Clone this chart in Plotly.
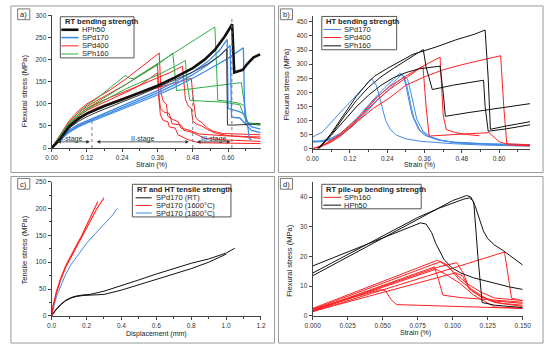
import plotly.graph_objects as go

FONT = "Arial, Liberation Sans, Helvetica, sans-serif"
W, H = 554, 348
RED = "#ff2020"
BLUE = "#3f8ae6"
GREEN = "#2fae45"
BLACK = "#111111"

# ---------------- Panel a : RT bending strength ----------------
a_title = "RT bending strength"
a_names = ["HPh50", "SPd170", "SPd400", "SPh160"]
a_xticks = [0.00, 0.12, 0.24, 0.36, 0.48, 0.60]
a_yticks = [0, 50, 100, 150, 200, 250, 300]

a_hph50_x = [0, 0.027, 0.06, 0.093, 0.12, 0.18, 0.24, 0.30, 0.36, 0.42, 0.48, 0.52, 0.555, 0.588, 0.614, 0.621, 0.637, 0.65, 0.665, 0.687, 0.709]
a_hph50_y = [0, 19, 49, 67, 78, 95, 110, 125, 141, 160, 181, 200, 222, 252, 280, 171, 175, 177, 190, 205, 212]
a_hph50b_x = [0, 0.02, 0.04, 0.06, 0.09, 0.12, 0.15, 0.20, 0.25, 0.30, 0.36, 0.42, 0.48, 0.53, 0.57, 0.595, 0.598, 0.62, 0.66, 0.71]
a_hph50b_y = [0, 15, 31, 45, 60, 71, 80, 94, 107, 120, 137, 154, 172, 190, 208, 224, 52, 52, 53, 55]

a_spd170_1_x = [0, 0.02, 0.04, 0.06, 0.09, 0.12, 0.15, 0.20, 0.25, 0.30, 0.36, 0.42, 0.48, 0.53, 0.57, 0.597, 0.600, 0.62, 0.64, 0.655, 0.665, 0.68, 0.71]
a_spd170_1_y = [0, 14, 29, 41, 53, 62, 70, 84, 98, 112, 130, 150, 172, 195, 220, 246, 90, 86, 82, 76, 60, 48, 43]
a_spd170_2_x = [0, 0.02, 0.04, 0.06, 0.09, 0.12, 0.15, 0.20, 0.25, 0.30, 0.36, 0.42, 0.48, 0.53, 0.57, 0.607, 0.612, 0.64, 0.66, 0.68, 0.71]
a_spd170_2_y = [0, 13, 27, 38, 50, 59, 67, 80, 94, 108, 125, 144, 166, 188, 208, 232, 70, 68, 55, 40, 35]
a_spd170_3_x = [0, 0.02, 0.04, 0.06, 0.09, 0.12, 0.15, 0.20, 0.25, 0.30, 0.36, 0.42, 0.48, 0.54, 0.60, 0.652, 0.657, 0.665, 0.672, 0.68]
a_spd170_3_y = [0, 12, 25, 36, 48, 57, 64, 77, 90, 104, 120, 138, 158, 180, 203, 227, 72, 62, 22, 18]

a_spd400_1_x = [0, 0.02, 0.04, 0.06, 0.09, 0.12, 0.15, 0.20, 0.25, 0.30, 0.366, 0.372, 0.38, 0.39, 0.395, 0.41, 0.43, 0.44, 0.47, 0.50, 0.58, 0.71]
a_spd400_1_y = [0, 20, 42, 62, 84, 100, 112, 132, 155, 180, 215, 125, 105, 100, 72, 65, 60, 45, 40, 32, 28, 25]
a_spd400_2_x = [0, 0.02, 0.04, 0.06, 0.09, 0.12, 0.15, 0.20, 0.25, 0.30, 0.36, 0.365, 0.37, 0.38, 0.40, 0.41, 0.44, 0.45, 0.48, 0.52, 0.60, 0.71]
a_spd400_2_y = [0, 19, 40, 58, 79, 94, 106, 124, 143, 164, 190, 120, 90, 82, 78, 55, 52, 40, 35, 22, 18, 15]
a_spd400_3_x = [0, 0.02, 0.04, 0.06, 0.09, 0.12, 0.15, 0.20, 0.25, 0.30, 0.36, 0.40, 0.445, 0.45, 0.455, 0.465, 0.475, 0.48, 0.49, 0.51, 0.53, 0.56, 0.60, 0.71]
a_spd400_3_y = [0, 18, 38, 55, 75, 89, 100, 115, 128, 142, 158, 170, 185, 150, 110, 95, 90, 62, 55, 50, 42, 33, 28, 22]
a_spd400_4_x = [0, 0.02, 0.04, 0.06, 0.09, 0.12, 0.15, 0.20, 0.25, 0.30, 0.36, 0.365, 0.37, 0.38, 0.395, 0.40, 0.42, 0.43, 0.46, 0.50, 0.71]
a_spd400_4_y = [0, 18, 37, 53, 72, 85, 95, 110, 125, 142, 170, 110, 75, 62, 60, 48, 45, 30, 20, 12, 10]
a_spd400_5_x = [0, 0.02, 0.04, 0.06, 0.09, 0.12, 0.15, 0.20, 0.25, 0.30, 0.36, 0.42, 0.475, 0.48, 0.485, 0.49, 0.50, 0.51, 0.53, 0.55, 0.58, 0.71]
a_spd400_5_y = [0, 17, 35, 50, 68, 80, 90, 103, 115, 125, 136, 147, 158, 120, 95, 70, 62, 58, 45, 38, 33, 30]

a_sph160_1_x = [0, 0.02, 0.04, 0.06, 0.09, 0.12, 0.15, 0.20, 0.25, 0.265, 0.28, 0.32, 0.36, 0.40, 0.45, 0.50, 0.555, 0.56, 0.565, 0.60, 0.64, 0.655, 0.66, 0.71]
a_sph160_1_y = [0, 19, 40, 58, 80, 97, 110, 138, 164, 158, 157, 174, 191, 208, 229, 251, 274, 200, 108, 106, 101, 96, 55, 52]
a_sph160_2_x = [0, 0.02, 0.04, 0.06, 0.09, 0.12, 0.15, 0.20, 0.25, 0.30, 0.36, 0.412, 0.417, 0.425, 0.45, 0.50, 0.55, 0.60, 0.645, 0.665, 0.71]
a_sph160_2_y = [0, 18, 38, 55, 75, 90, 102, 122, 142, 163, 188, 215, 180, 130, 132, 136, 140, 144, 148, 57, 55]
a_sph160_3_x = [0, 0.02, 0.04, 0.06, 0.09, 0.12, 0.15, 0.20, 0.25, 0.30, 0.36, 0.42, 0.455, 0.46, 0.47, 0.52, 0.58, 0.62, 0.64, 0.655, 0.67, 0.71]
a_sph160_3_y = [0, 17, 36, 52, 71, 86, 98, 116, 133, 148, 165, 185, 198, 150, 108, 106, 104, 100, 98, 72, 55, 52]

a_stage_names = ["I-stage", "II-stage", "III-stage"]
a_stage_start = [0.014, 0.148, 0.489]
a_stage_end = [0.130, 0.467, 0.608]
a_stage_text_x = [0.07, 0.308, 0.55]
a_divider_x = [0.137, 0.48, 0.613]
a_divider_top = [60, 128, 300]

# ---------------- Panel b : HT bending strength ----------------
b_title = "HT bending strength"
b_names = ["SPd170", "SPd400", "SPh160"]
b_xticks = [0.00, 0.12, 0.24, 0.36, 0.48, 0.60]
b_yticks = [0, 50, 100, 150, 200, 250, 300, 350, 400, 450]

b_spd170_1_x = [0, 0.01, 0.03, 0.06, 0.09, 0.12, 0.15, 0.175, 0.19, 0.205, 0.215, 0.225, 0.235, 0.25, 0.27, 0.30, 0.35, 0.45, 0.55, 0.70]
b_spd170_1_y = [40, 48, 58, 95, 130, 165, 200, 232, 248, 225, 185, 140, 100, 68, 48, 35, 26, 18, 13, 9]
b_spd170_2_x = [0, 0.03, 0.06, 0.09, 0.12, 0.15, 0.18, 0.21, 0.24, 0.27, 0.28, 0.29, 0.30, 0.31, 0.32, 0.34, 0.36, 0.40, 0.45, 0.55, 0.70]
b_spd170_2_y = [27, 28, 38, 55, 85, 118, 155, 192, 225, 260, 268, 262, 225, 170, 120, 70, 48, 32, 24, 18, 14]
b_spd170_3_x = [0, 0.03, 0.06, 0.09, 0.12, 0.15, 0.18, 0.21, 0.24, 0.27, 0.285, 0.295, 0.305, 0.315, 0.325, 0.345, 0.37, 0.41, 0.46, 0.56, 0.70]
b_spd170_3_y = [25, 26, 34, 50, 78, 110, 148, 185, 215, 248, 262, 255, 215, 160, 112, 66, 45, 30, 22, 17, 13]
b_spd170_4_x = [0, 0.03, 0.06, 0.09, 0.12, 0.15, 0.18, 0.21, 0.24, 0.27, 0.295, 0.305, 0.315, 0.325, 0.335, 0.355, 0.38, 0.42, 0.47, 0.57, 0.70]
b_spd170_4_y = [24, 25, 32, 48, 72, 102, 138, 175, 205, 235, 256, 248, 205, 150, 105, 62, 42, 28, 20, 15, 12]

b_spd400_1_x = [0, 0.03, 0.06, 0.09, 0.143, 0.195, 0.247, 0.30, 0.35, 0.41, 0.415, 0.42, 0.43, 0.46, 0.50, 0.536]
b_spd400_1_y = [0, 12, 30, 55, 105, 170, 220, 258, 290, 325, 220, 120, 68, 57, 50, 46]
b_spd400_2_x = [0, 0.03, 0.06, 0.09, 0.143, 0.195, 0.247, 0.30, 0.355, 0.365, 0.375, 0.45, 0.53, 0.567, 0.58, 0.60, 0.62, 0.70]
b_spd400_2_y = [0, 10, 27, 50, 100, 160, 210, 252, 293, 150, 45, 50, 54, 57, 45, 25, 18, 14]
b_spd400_3_x = [0, 0.03, 0.06, 0.09, 0.143, 0.195, 0.247, 0.30, 0.36, 0.42, 0.48, 0.54, 0.605, 0.615, 0.625, 0.65, 0.70]
b_spd400_3_y = [0, 9, 24, 45, 96, 143, 180, 225, 255, 280, 298, 313, 330, 150, 15, 12, 10]

b_sph160_1_x = [0.02, 0.06, 0.10, 0.14, 0.18, 0.20, 0.24, 0.28, 0.323, 0.40, 0.46, 0.52, 0.555, 0.565, 0.572, 0.62, 0.70]
b_sph160_1_y = [0, 55, 120, 185, 238, 258, 285, 308, 335, 362, 386, 406, 421, 250, 69, 80, 96]
b_sph160_2_x = [0.02, 0.06, 0.10, 0.14, 0.18, 0.22, 0.26, 0.30, 0.33, 0.356, 0.365, 0.385, 0.45, 0.55, 0.555, 0.565, 0.62, 0.70]
b_sph160_2_y = [0, 50, 112, 170, 218, 255, 285, 312, 333, 352, 290, 210, 225, 243, 150, 62, 70, 85]
b_sph160_3_x = [0.015, 0.06, 0.10, 0.14, 0.18, 0.22, 0.26, 0.30, 0.34, 0.38, 0.41, 0.42, 0.427, 0.50, 0.60, 0.70]
b_sph160_3_y = [0, 48, 98, 148, 190, 225, 252, 270, 283, 290, 293, 200, 115, 128, 145, 160]

# ---------------- Panel c : RT and HT tensile strength ----------------
c_title = "RT and HT tensile strength"
c_names = ["SPd170 (RT)", "SPd170 (1600°C)", "SPd170 (1800°C)"]
c_xticks = [0.0, 0.2, 0.4, 0.6, 0.8, 1.0, 1.2]
c_yticks = [0, 50, 100, 150, 200, 250]

c_rt_1_x = [0, 0.02, 0.05, 0.08, 0.11, 0.14, 0.18, 0.22, 0.30, 0.40, 0.50, 0.60, 0.70, 0.80, 0.90, 0.97, 1.00, 1.05]
c_rt_1_y = [0, 10, 21, 29, 34, 37, 39, 40, 46, 56, 67, 78, 88, 98, 106, 113, 117, 126]
c_rt_2_x = [0, 0.02, 0.05, 0.08, 0.11, 0.14, 0.18, 0.22, 0.26, 0.30, 0.40, 0.50, 0.60, 0.70, 0.80, 0.90, 0.97, 1.00]
c_rt_2_y = [0, 9, 20, 28, 33, 36, 38, 39, 40, 40, 48, 58, 68, 78, 88, 100, 110, 115]
c_1600_1_x = [0, 0.01, 0.03, 0.05, 0.08, 0.11, 0.14, 0.17, 0.20, 0.23, 0.26, 0.30]
c_1600_1_y = [0, 20, 45, 65, 90, 110, 127, 145, 163, 182, 200, 220]
c_1600_2_x = [0, 0.01, 0.03, 0.05, 0.08, 0.11, 0.14, 0.17, 0.20, 0.23, 0.265]
c_1600_2_y = [0, 22, 48, 68, 93, 113, 130, 148, 168, 190, 213]
c_1800_x = [0, 0.01, 0.03, 0.05, 0.08, 0.11, 0.15, 0.20, 0.25, 0.30, 0.35, 0.375]
c_1800_y = [0, 15, 38, 55, 77, 95, 113, 135, 153, 170, 188, 200]

# ---------------- Panel d : RT pile-up bending strength ----------------
d_title = "RT pile-up bending strength"
d_names = ["SPh160", "HPh50"]
d_xticks = [0.000, 0.025, 0.050, 0.075, 0.100, 0.125, 0.150]
d_yticks = [0, 10, 20, 30, 40]

d_hph50_1_x = [0, 0.02, 0.04, 0.06, 0.075, 0.09, 0.10, 0.108, 0.112, 0.115, 0.118, 0.121, 0.13, 0.15]
d_hph50_1_y = [14.4, 19.4, 24.4, 29.4, 33.1, 36.2, 38.0, 39.3, 39.7, 38.5, 20, 4.5, 3.6, 2.8]
d_hph50_2_x = [0, 0.02, 0.04, 0.06, 0.075, 0.09, 0.10, 0.11, 0.113, 0.116, 0.119, 0.122, 0.125, 0.13, 0.136, 0.143, 0.15]
d_hph50_2_y = [13.5, 18.6, 23.7, 28.8, 32.6, 36.5, 38.8, 40.5, 40.0, 37, 32.5, 28.5, 26, 23.8, 22, 19.5, 17.1]
d_hph50_3_x = [0, 0.02, 0.04, 0.06, 0.072, 0.077, 0.081, 0.085, 0.088, 0.094, 0.10, 0.106, 0.115, 0.129, 0.14, 0.15]
d_hph50_3_y = [16.8, 20.6, 24.5, 28.2, 30.6, 31.3, 30.9, 28, 24.3, 18.8, 16.0, 14.4, 12.8, 11.1, 9.8, 8.9]

d_sph160_1_x = [0, 0.089, 0.095, 0.10, 0.11, 0.12, 0.13, 0.15]
d_sph160_1_y = [2.5, 18.7, 17.5, 15, 11, 8, 6, 5.2]
d_sph160_2_x = [0, 0.091, 0.097, 0.105, 0.115, 0.125, 0.135, 0.15]
d_sph160_2_y = [2.2, 18.2, 16.5, 12, 8.5, 5.5, 4.2, 3.6]
d_sph160_3_x = [0, 0.09, 0.103, 0.108, 0.112, 0.12, 0.13, 0.15]
d_sph160_3_y = [1.8, 16.5, 17.9, 14, 9, 6.5, 5, 4.2]
d_sph160_4_x = [0, 0.087, 0.090, 0.093, 0.105, 0.125, 0.15]
d_sph160_4_y = [1.8, 16.5, 12, 7, 6.2, 5.5, 4.6]
d_sph160_5_x = [0, 0.088, 0.095, 0.105, 0.115, 0.13, 0.15]
d_sph160_5_y = [1.6, 15.7, 14, 11, 7, 3, 2.6]
d_sph160_6_x = [0, 0.048, 0.052, 0.056, 0.06, 0.10, 0.15]
d_sph160_6_y = [2.3, 8.8, 8.5, 5.5, 3.8, 3.2, 2.5]
d_sph160_7_x = [0, 0.137, 0.142, 0.15]
d_sph160_7_y = [1.4, 21.5, 6, 5]
d_sph160_8_x = [0, 0.102, 0.107, 0.112, 0.12, 0.13, 0.15]
d_sph160_8_y = [1.5, 14.5, 13.5, 9, 6.5, 4.5, 3.2]

# ======================================================================
fig = go.Figure()


def add(xs, ys, color, width, ax):
    xa = "x" if ax == 1 else f"x{ax}"
    ya = "y" if ax == 1 else f"y{ax}"
    fig.add_trace(go.Scatter(x=xs, y=ys, mode="lines", line=dict(color=color, width=width),
                             xaxis=xa, yaxis=ya, showlegend=False, hoverinfo="skip"))


# panel a
for xs, ys in [(a_spd400_1_x, a_spd400_1_y), (a_spd400_2_x, a_spd400_2_y), (a_spd400_3_x, a_spd400_3_y),
               (a_spd400_4_x, a_spd400_4_y), (a_spd400_5_x, a_spd400_5_y)]:
    add(xs, ys, RED, 1, 1)
for xs, ys in [(a_sph160_1_x, a_sph160_1_y), (a_sph160_2_x, a_sph160_2_y), (a_sph160_3_x, a_sph160_3_y)]:
    add(xs, ys, GREEN, 1, 1)
for xs, ys in [(a_spd170_1_x, a_spd170_1_y), (a_spd170_2_x, a_spd170_2_y), (a_spd170_3_x, a_spd170_3_y)]:
    add(xs, ys, BLUE, 1.3, 1)
add(a_hph50b_x, a_hph50b_y, "#333333", 1, 1)
add(a_hph50_x, a_hph50_y, BLACK, 2.6, 1)

# panel b
for xs, ys in [(b_spd170_1_x, b_spd170_1_y), (b_spd170_2_x, b_spd170_2_y), (b_spd170_3_x, b_spd170_3_y),
               (b_spd170_4_x, b_spd170_4_y)]:
    add(xs, ys, BLUE, 1, 2)
for xs, ys in [(b_spd400_1_x, b_spd400_1_y), (b_spd400_2_x, b_spd400_2_y), (b_spd400_3_x, b_spd400_3_y)]:
    add(xs, ys, RED, 1, 2)
for xs, ys in [(b_sph160_1_x, b_sph160_1_y), (b_sph160_2_x, b_sph160_2_y), (b_sph160_3_x, b_sph160_3_y)]:
    add(xs, ys, BLACK, 1, 2)

# panel c
add(c_rt_1_x, c_rt_1_y, BLACK, 1, 3)
add(c_rt_2_x, c_rt_2_y, BLACK, 1, 3)
add(c_1800_x, c_1800_y, BLUE, 1, 3)
add(c_1600_1_x, c_1600_1_y, RED, 1.1, 3)
add(c_1600_2_x, c_1600_2_y, RED, 1.1, 3)

# panel d
for xs, ys in [(d_sph160_1_x, d_sph160_1_y), (d_sph160_2_x, d_sph160_2_y), (d_sph160_3_x, d_sph160_3_y),
               (d_sph160_4_x, d_sph160_4_y), (d_sph160_5_x, d_sph160_5_y), (d_sph160_6_x, d_sph160_6_y),
               (d_sph160_7_x, d_sph160_7_y), (d_sph160_8_x, d_sph160_8_y)]:
    add(xs, ys, RED, 1, 4)
for xs, ys in [(d_hph50_1_x, d_hph50_1_y), (d_hph50_2_x, d_hph50_2_y), (d_hph50_3_x, d_hph50_3_y)]:
    add(xs, ys, BLACK, 1, 4)

# ---------------- layout helpers ----------------
shapes, annotations = [], []


def rect(x0, y0, x1, y1, color, width=1, fill="rgba(0,0,0,0)"):
    shapes.append(dict(type="rect", xref="paper", yref="paper", x0=x0 / W, x1=x1 / W,
                       y0=1 - y1 / H, y1=1 - y0 / H, line=dict(color=color, width=width),
                       fillcolor=fill, layer="above"))


def hline(x0, x1, y, color, width):
    shapes.append(dict(type="line", xref="paper", yref="paper", x0=x0 / W, x1=x1 / W,
                       y0=1 - y / H, y1=1 - y / H, line=dict(color=color, width=width), layer="above"))


def text(x, y, s, size, bold=False, xanchor="left", angle=0, color="#222"):
    annotations.append(dict(xref="paper", yref="paper", x=x / W, y=1 - y / H,
                            text=f"<b>{s}</b>" if bold else s, showarrow=False,
                            xanchor=xanchor, yanchor="middle", textangle=angle,
                            font=dict(size=size, color=color, family=FONT)))


def legend(box, title, title_y, names, colors, widths, rows, lx0, lx1, tx):
    rect(*box, "#555", 1, "white")
    text(box[0] + 2.5, title_y, title, 7.5, bold=True)
    for n, c, w, r in zip(names, colors, widths, rows):
        hline(lx0, lx1, r, c, w)
        text(tx, r, n, 7.5)


# panel frames and labels
for (x0, y0, x1, y1), lab, (lx, ly) in [((3, 2, 275, 172), "a)", (10, 5)), ((279, 2, 552, 172), "b)", (281, 5)),
                                         ((3, 176, 275, 346), "c)", (10, 178)), ((279, 176, 552, 346), "d)", (281, 178))]:
    rect(x0, y0, x1, y1, "#9a9a9a", 1)
    rect(lx, ly, lx + 12.5, ly + 11, "#777", 1)
    text(lx + 6.25, ly + 5.7, lab, 7.5, xanchor="center")

legend((54, 13, 130, 55), a_title, 17.5, a_names, [BLACK, BLUE, RED, GREEN], [2.6, 1.6, 1, 1],
       [26.3, 34.3, 42.7, 51], 55, 72.7, 74.5)
legend((323.7, 12.7, 401, 46.7), b_title, 17.5, b_names, [BLUE, RED, BLACK], [1, 1, 1],
       [26, 34.2, 42.7], 325.3, 343.7, 345)
legend((128.3, 184, 230, 217.3), c_title, 189, c_names, [BLACK, RED, BLUE], [1, 1, 1],
       [197.8, 205.6, 213.3], 131.7, 148.3, 150.5)
legend((323.7, 184, 426.3, 209), d_title, 189, d_names, [RED, BLACK], [1, 1],
       [197.3, 205.3], 325.3, 343.7, 345)

# axis titles
text(148, 164.5, "Strain (%)", 7, xanchor="center")
text(16.5, 88, "Flexural stress (MPa)", 7.6, xanchor="center", angle=-90)
text(425, 164.5, "Strain (%)", 7, xanchor="center")
text(287, 82, "Flexural stress (MPa)", 7.6, xanchor="center", angle=-90)
text(153, 337, "Displacement (mm)", 7, xanchor="center")
text(17, 251, "Tensile stress (MPa)", 7.6, xanchor="center", angle=-90)
text(420, 335.5, "Strain (%)", 7, xanchor="center")
text(291, 262, "Flexural stress (MPa)", 7.6, xanchor="center", angle=-90)

# stage markers in panel a
for xs, top in zip(a_divider_x, a_divider_top):
    shapes.append(dict(type="line", xref="x", yref="y", x0=xs, x1=xs, y0=0, y1=top,
                       line=dict(color="#777", width=1, dash="dot")))
for s, e in zip(a_stage_start, a_stage_end):
    annotations.append(dict(xref="x", yref="y", axref="x", ayref="y", x=e, y=14, ax=s, ay=14,
                            text="", showarrow=True, arrowhead=2, arrowside="end+start",
                            arrowsize=0.9, arrowwidth=0.8, arrowcolor="#333"))
for name, tx in zip(a_stage_names, a_stage_text_x):
    annotations.append(dict(xref="x", yref="y", x=tx, y=19.5, text=name, showarrow=False,
                            font=dict(size=7, color="#333", family=FONT)))


def axis(domain, rng, ticks, fmt, minor=None):
    d = dict(domain=domain, range=rng, tickvals=ticks, tickformat=fmt, showline=True,
             linecolor="#444", linewidth=1, ticks="outside", ticklen=3, tickwidth=1,
             tickcolor="#444", tickfont=dict(size=6.5, color="#333", family=FONT),
             showgrid=False, zeroline=False, mirror=False, fixedrange=True)
    if minor is not None:
        d["minor"] = dict(ticks="outside", ticklen=1.8, dtick=minor, tick0=0, tickcolor="#444", showgrid=False)
    return d


xa = [45 / W, 261 / W]
xb = [314.3 / W, 538.7 / W]
xd = [314.3 / W, 531 / W]
fig.update_layout(
    width=W, height=H, margin=dict(l=0, r=0, t=0, b=0),
    paper_bgcolor="white", plot_bgcolor="white", showlegend=False,
    xaxis=axis(xa, [0, 0.712], a_xticks, ".2f", 0.06),
    yaxis=axis([1 - 147 / H, 1 - 11.7 / H], [0, 300], a_yticks, "d"),
    xaxis2=axis(xb, [0, 0.70], b_xticks, ".2f", 0.06),
    yaxis2=axis([1 - 147.7 / H, 1 - 12.5 / H], [0, 470], b_yticks, "d"),
    xaxis3=axis(xa, [0, 1.2], c_xticks, ".1f", 0.1),
    yaxis3=axis([1 - 318.3 / H, 1 - 181.3 / H], [0, 250], c_yticks, "d", 25),
    xaxis4=axis(xd, [0, 0.15], d_xticks, ".3f"),
    yaxis4=axis([1 - 318.3 / H, 1 - 181.8 / H], [0, 45], d_yticks, "d"),
    shapes=shapes, annotations=annotations,
)
for i in (1, 2, 3, 4):
    sx = "xaxis" if i == 1 else f"xaxis{i}"
    sy = "yaxis" if i == 1 else f"yaxis{i}"
    fig.layout[sx].anchor = "y" if i == 1 else f"y{i}"
    fig.layout[sy].anchor = "x" if i == 1 else f"x{i}"

fig.write_html("out.html")
